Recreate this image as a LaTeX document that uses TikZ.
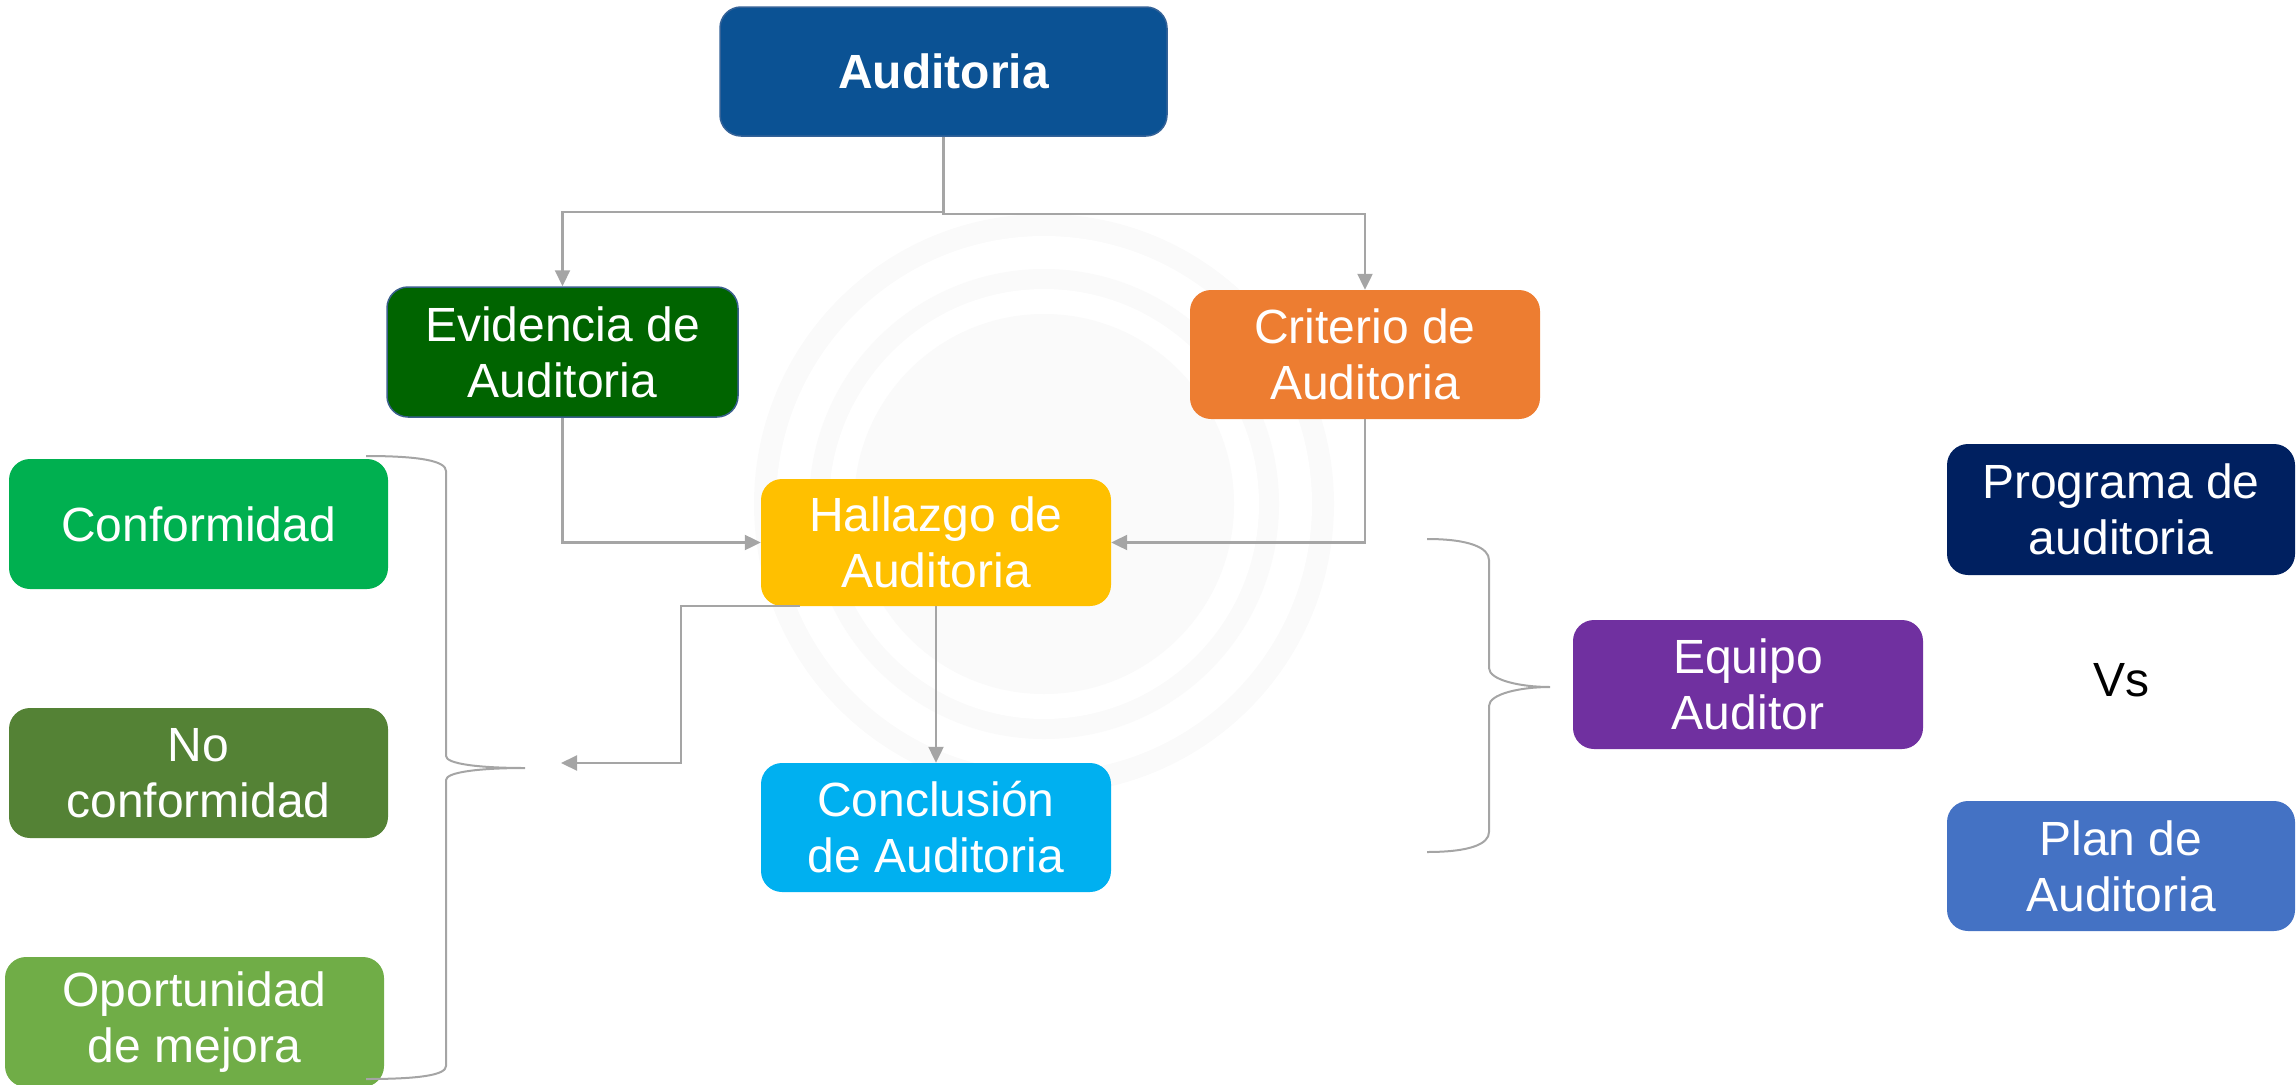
\documentclass[tikz,border=0pt]{standalone}
\usepackage{fontspec}
\setmainfont{Liberation Sans}
\usetikzlibrary{arrows.meta,calc}
\definecolor{cAud}{RGB}{11,82,148}
\definecolor{cAudB}{RGB}{52,98,152}
\definecolor{cEvi}{RGB}{0,100,0}
\definecolor{cEviB}{RGB}{58,95,140}
\definecolor{cCri}{RGB}{237,125,49}
\definecolor{cHal}{RGB}{255,192,0}
\definecolor{cCon}{RGB}{0,176,240}
\definecolor{cConf}{RGB}{0,176,80}
\definecolor{cNoc}{RGB}{84,130,53}
\definecolor{cOpo}{RGB}{112,173,71}
\definecolor{cEqu}{RGB}{112,48,160}
\definecolor{cPro}{RGB}{0,32,96}
\definecolor{cPla}{RGB}{68,114,196}
\definecolor{cLine}{RGB}{165,165,165}
\definecolor{cWm}{RGB}{250,250,250}
\newcommand\bigfont{\fontsize{48}{56}\selectfont}
\tikzset{
  box/.style={rounded corners=21pt, inner sep=0pt, text=white, align=center,
    font=\bigfont, minimum width=350pt, minimum height=129pt},
  conn/.style={draw=cLine, line width=2.2pt, -{Triangle[length=16pt,width=15pt]}},
  brace/.style={draw=cLine, line width=2pt},
}
\begin{document}
\begin{tikzpicture}[x=1pt,y=-1pt]
\useasboundingbox (0,0) rectangle (2296,1084);
% faint watermark
\fill[cWm] (1044,504) circle (290);
\fill[white] (1044,504) circle (268);
\fill[cWm] (1044,504) circle (235);
\fill[white] (1044,504) circle (215);
\fill[cWm] (1044,504) circle (190);

% boxes
\node[box, fill=cAud, draw=cAudB, line width=1.5pt, minimum width=447pt, font=\bigfont\bfseries] (aud) at (943.5,71.5) {Auditoria};
\node[box, fill=cEvi, draw=cEviB, line width=1.5pt, minimum width=351pt, minimum height=130pt] (evi) at (562.5,352) {Evidencia de\\Auditoria};
\node[box, fill=cCri] (cri) at (1365,354.5) {Criterio de\\Auditoria};
\node[box, fill=cHal, minimum height=127pt] (hal) at (936,542.5) {Hallazgo de\\Auditoria};
\node[box, fill=cCon] (con) at (936,827.5) {Conclusión\\de Auditoria};
\node[box, fill=cConf, minimum width=379pt, minimum height=130pt] (conf) at (198.5,524) {Conformidad};
\node[box, fill=cNoc, minimum width=379pt, minimum height=130pt] (noc) at (198.5,773) {No\\conformidad};
\node[box, fill=cOpo, minimum width=379pt, minimum height=130pt] (opo) at (194.5,1022) {Oportunidad\\de mejora};
\node[box, fill=cEqu] (equ) at (1748,684.5) {Equipo\\Auditor};
\node[box, fill=cPro, minimum width=348pt, minimum height=131pt] (pro) at (2121,509.5) {Programa de\\auditoria};
\node[box, fill=cPla, minimum width=348pt, minimum height=130pt] (pla) at (2121,866) {Plan de\\Auditoria};
\node[font=\bigfont, text=black] (vs) at (2121,680) {Vs};

% connectors
\coordinate (j1) at (943.5,212);
\coordinate (j2) at (943.5,214);
\draw[conn] (aud.south) -- (j1) -| (evi.north);
\draw[conn] (aud.south) -- (j2) -| (cri.north);
\draw[conn] (evi.south) |- (hal.west);
\draw[conn] (cri.south) |- (hal.east);
\draw[conn] (hal.south) -- (con.north);
\coordinate (hs) at ($(hal.south west)+(39,0)$);
\coordinate (bt) at (561,763);
\draw[conn] (hs) -| ($(bt)+(120,0)$) -- (bt);

% braces
\draw[brace] (366,456) .. controls (420,456) and (446,461) .. (446,471) -- (446,756)
  .. controls (446,764) and (480,768) .. (525,768)
  .. controls (480,768) and (446,772) .. (446,780) -- (446,1066)
  .. controls (446,1075) and (420,1079) .. (366,1079);
\draw[brace] (1427,539) .. controls (1470,539) and (1489,548) .. (1489,560) -- (1489,668)
  .. controls (1489,680) and (1520,687) .. (1550,687)
  .. controls (1520,687) and (1489,694) .. (1489,706) -- (1489,832)
  .. controls (1489,844) and (1470,852) .. (1427,852);
\end{tikzpicture}
\end{document}
